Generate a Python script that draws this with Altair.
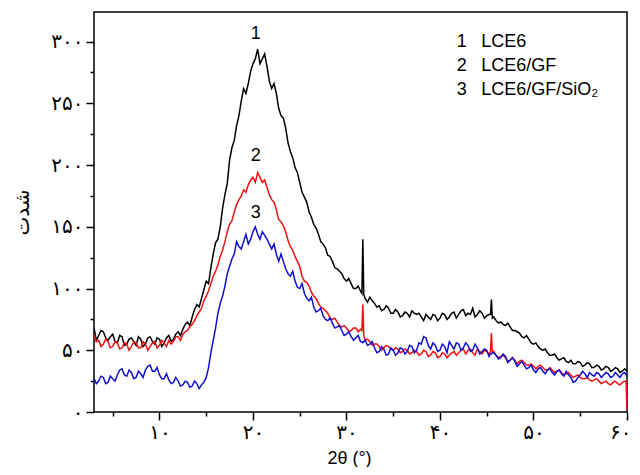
import altair as alt
import pandas as pd

# ---- data ----
# 2theta sampling positions (degrees), every 0.5 deg
two_theta = [
    3.0, 3.5, 4.0, 4.5, 5.0, 5.5, 6.0, 6.5, 7.0, 7.5,
    8.0, 8.5, 9.0, 9.5, 10.0, 10.5, 11.0, 11.5, 12.0, 12.5,
    13.0, 13.5, 14.0, 14.5, 15.0, 15.5, 16.0, 16.5, 17.0, 17.5,
    18.0, 18.5, 19.0, 19.5, 20.0, 20.5, 21.0, 21.5, 22.0, 22.5,
    23.0, 23.5, 24.0, 24.5, 25.0, 25.5, 26.0, 26.5, 27.0, 27.5,
    28.0, 28.5, 29.0, 29.5, 30.0, 30.5, 31.0, 31.5, 32.0, 32.5,
    33.0, 33.5, 34.0, 34.5, 35.0, 35.5, 36.0, 36.5, 37.0, 37.5,
    38.0, 38.5, 39.0, 39.5, 40.0, 40.5, 41.0, 41.5, 42.0, 42.5,
    43.0, 43.5, 44.0, 44.5, 45.0, 45.5, 46.0, 46.5, 47.0, 47.5,
    48.0, 48.5, 49.0, 49.5, 50.0, 50.5, 51.0, 51.5, 52.0, 52.5,
    53.0, 53.5, 54.0, 54.5, 55.0, 55.5, 56.0, 56.5, 57.0, 57.5,
    58.0, 58.5, 59.0, 59.5, 60.0,
]
# in-between positions (3.25, 3.75, ... 59.75)
two_theta_mid = [t + 0.25 for t in two_theta[:-1]]
# extra positions around the narrow reflections and the end of the scan
two_theta_extra = [31.65, 31.85, 45.4, 45.6, 59.9]

lce6 = [
    68, 62, 65, 58, 63, 56, 61, 55, 60, 54,
    59, 55, 61, 55, 59, 56, 62, 59, 65, 67,
    73, 77, 87, 92, 106, 117, 137, 150, 176, 204,
    220, 240, 262, 266, 282, 294, 286, 280, 262, 258,
    240, 230, 211, 198, 186, 174, 162, 152, 144, 136,
    127, 122, 116, 112, 106, 104, 100, 98, 92, 93,
    88, 86, 83, 84, 80, 81, 78, 80, 82, 79,
    77, 79, 75, 78, 76, 79, 77, 81, 79, 83,
    80, 84, 79, 80, 78, 91, 74, 73, 70, 69,
    66, 64, 60, 59, 55, 53, 50, 48, 46, 44,
    43, 41, 42, 39, 40, 38, 39, 36, 37, 35,
    36, 34, 35, 33, 33,
]
lce6_mid = [
    58, 66, 60, 61, 57, 62, 54, 59, 57, 61,
    53, 60, 57, 60, 53, 60, 57, 63, 62, 71,
    70, 83, 85, 99, 104, 128, 140, 165, 185, 214,
    232, 252, 258, 276, 286, 282, 290, 268, 266, 246,
    238, 218, 206, 194, 178, 170, 158, 149, 138, 133,
    126, 117, 114, 108, 108, 100, 102, 140, 89, 90,
    85, 82, 86, 80, 83, 77, 81, 77, 80, 80,
    74, 77, 79, 74, 80, 75, 80, 76, 82, 78,
    79, 77, 82, 76, 79, 77, 72, 71, 72, 66,
    65, 61, 62, 56, 56, 51, 51, 46, 47, 42,
    44, 40, 39, 41, 37, 40, 36, 38, 34, 37,
    33, 36, 32, 35,
]
lce6_extra = [96, 95, 79, 76, 34]

lce6_gf = [
    63, 58, 55, 57, 53, 56, 52, 55, 53, 56,
    52, 55, 53, 57, 54, 56, 58, 57, 61, 63,
    66, 71, 78, 84, 94, 104, 114, 126, 138, 152,
    162, 172, 180, 184, 190, 194, 186, 182, 172, 164,
    154, 146, 134, 126, 118, 106, 102, 94, 88, 84,
    80, 75, 73, 69, 68, 66, 68, 67, 58, 57,
    55, 53, 52, 53, 50, 51, 49, 50, 48, 49,
    47, 49, 46, 48, 45, 47, 46, 49, 48, 51,
    50, 48, 51, 47, 49, 64, 46, 45, 44, 42,
    42, 41, 40, 38, 37, 37, 36, 34, 34, 33,
    32, 31, 30, 29, 28, 27, 26, 26, 25, 24,
    23, 24, 23, 24, 1,
]
lce6_gf_mid = [
    57, 53, 59, 52, 57, 51, 56, 50, 57, 52,
    57, 50, 56, 52, 58, 53, 55, 61, 58, 65,
    69, 74, 81, 90, 98, 110, 119, 131, 146, 155,
    168, 175, 178, 188, 186, 190, 188, 176, 170, 156,
    151, 139, 131, 122, 110, 105, 97, 92, 85, 82,
    76, 76, 70, 70, 65, 68, 65, 87, 59, 54,
    55, 50, 54, 51, 52, 48, 51, 47, 50, 46,
    50, 45, 49, 44, 48, 44, 48, 46, 50, 47,
    51, 46, 49, 50, 47, 49, 44, 46, 41, 44,
    39, 42, 38, 39, 35, 38, 34, 36, 32, 34,
    30, 32, 28, 30, 27, 28, 25, 27, 23, 25,
    22, 25, 22, 25,
]
lce6_gf_extra = [66, 62, 49, 48, 25]

lce6_gf_sio2 = [
    27, 25, 28, 24, 27, 30, 35, 29, 32, 28,
    31, 34, 38, 33, 30, 27, 26, 24, 25, 22,
    24, 21, 23, 22, 28, 48, 68, 88, 102, 118,
    128, 134, 138, 136, 146, 144, 146, 140, 132, 128,
    128, 116, 110, 106, 100, 96, 90, 85, 82, 78,
    74, 72, 69, 66, 63, 61, 60, 57, 58, 55,
    52, 49, 51, 47, 50, 48, 51, 49, 53, 50,
    55, 60, 51, 54, 50, 53, 57, 51, 55, 52,
    54, 50, 52, 49, 50, 47, 46, 44, 45, 42,
    41, 39, 38, 36, 34, 35, 33, 34, 32, 33,
    31, 33, 28, 25, 30, 31, 32, 29, 31, 30,
    31, 29, 30, 31, 30,
]
lce6_gf_sio2_mid = [
    23, 29, 23, 29, 25, 34, 30, 34, 27, 33,
    28, 37, 33, 36, 27, 31, 23, 28, 21, 25,
    20, 25, 19, 24, 36, 58, 80, 94, 112, 124,
    138, 132, 144, 140, 150, 140, 143, 136, 136, 122,
    122, 112, 114, 101, 104, 92, 93, 81, 84, 75,
    76, 68, 70, 62, 65, 58, 62, 56, 54, 57,
    48, 53, 46, 52, 46, 52, 47, 54, 48, 56,
    61, 54, 56, 49, 55, 48, 54, 56, 50, 56,
    49, 55, 47, 51, 45, 48, 43, 47, 40, 44,
    37, 41, 35, 38, 32, 36, 31, 35, 30, 34,
    29, 30, 24, 28, 33, 28, 30, 32, 28, 32,
    28, 32, 28, 32,
]
lce6_gf_sio2_extra = [57, 57, 47, 48, 30]

series_names = ["LCE6", "LCE6/GF", "LCE6/GF/SiO2"]
series_colors = ["#000000", "#f01010", "#1010d0"]

legend_nums = ["1", "2", "3"]
legend_texts = ["LCE6", "LCE6/GF", "LCE6/GF/SiO\u2082"]
legend_num_x = [41.8, 41.8, 41.8]
legend_text_x = [44.4, 44.4, 44.4]
legend_y = [300, 280, 260.5]

curve_label_x = [20.3, 20.3, 20.3]
curve_label_y = [306, 207, 161.5]

x_tick_values = [10, 20, 30, 40, 50, 60]
x_tick_labels = ["۱۰", "۲۰", "۳۰", "۴۰", "۵۰", "۶۰"]
x_minor_values = [5, 15, 25, 35, 45, 55]
y_tick_values = [0, 50, 100, 150, 200, 250, 300]
y_tick_labels = ["۰", "۵۰", "۱۰۰", "۱۵۰", "۲۰۰", "۲۵۰", "۳۰۰"]
y_minor_values = [25, 75, 125, 175, 225, 275]

x_title = "2θ (°)"
y_title = "شدت"

# ---- build tables ----
rows = []
for name, base, mid, extra in zip(
        series_names,
        [lce6, lce6_gf, lce6_gf_sio2],
        [lce6_mid, lce6_gf_mid, lce6_gf_sio2_mid],
        [lce6_extra, lce6_gf_extra, lce6_gf_sio2_extra]):
    pts = (list(zip(two_theta, base)) + list(zip(two_theta_mid, mid))
           + list(zip(two_theta_extra, extra)))
    pts.sort(key=lambda p: p[0])
    for t, v in pts:
        rows.append({"theta": t, "intensity": v, "series": name})
df = pd.DataFrame(rows)

legend_df = pd.DataFrame({
    "num": legend_nums, "text": legend_texts,
    "nx": legend_num_x, "tx": legend_text_x, "y": legend_y,
})
curve_df = pd.DataFrame({"num": legend_nums, "x": curve_label_x, "y": curve_label_y})


def label_expr(values, labels):
    expr = "''"
    for v, lab in reversed(list(zip(values, labels))):
        expr = f"datum.value == {v} ? '{lab}' : ({expr})"
    return expr


X_DOMAIN = [3, 60]
Y_DOMAIN = [0, 324]
xs = alt.Scale(domain=X_DOMAIN, nice=False, zero=False)
ys = alt.Scale(domain=Y_DOMAIN, nice=False, zero=False)

x_axis = alt.Axis(
    values=x_tick_values, labelExpr=label_expr(x_tick_values, x_tick_labels),
    tickSize=8, tickWidth=1.5, tickColor="black", domain=False, grid=False,
    labelFont="DejaVu Sans", labelFontSize=20, labelColor="black", labelPadding=2,
    labelFlush=True, labelFlushOffset=4, labelOverlap=False,
    title=x_title, titleFont="Liberation Sans", titleFontSize=18,
    titleFontWeight="normal", titleColor="black",
    titleX=255, titleY=46, titleAlign="center", titleBaseline="middle",
)
y_axis = alt.Axis(
    values=y_tick_values, labelExpr=label_expr(y_tick_values, y_tick_labels),
    tickSize=8, tickWidth=1.5, tickColor="black", domain=False, grid=False,
    labelFont="DejaVu Sans", labelFontSize=20, labelColor="black", labelPadding=3,
    labelFlush=False, labelOverlap=False,
    title=y_title, titleFont="DejaVu Sans", titleFontSize=20,
    titleFontWeight="normal", titleColor="black", titleAngle=270,
    titleX=-72, titleY=200, titleAlign="center", titleBaseline="middle",
)
x_minor_axis = alt.Axis(
    orient="bottom", values=x_minor_values, tickSize=4, tickWidth=1.5,
    tickColor="black", labels=False, domain=False, grid=False, title=None,
)
y_minor_axis = alt.Axis(
    orient="left", values=y_minor_values, tickSize=4, tickWidth=1.5,
    tickColor="black", labels=False, domain=False, grid=False, title=None,
)

layers = []
for name, color in zip(series_names, series_colors):
    layers.append(
        alt.Chart(df).transform_filter(alt.datum.series == name)
        .mark_line(color=color, strokeWidth=1.5, clip=True)
        .encode(
            x=alt.X("theta:Q", scale=xs, axis=x_axis if not layers else None),
            y=alt.Y("intensity:Q", scale=ys, axis=y_axis if not layers else None),
        )
    )

minor = alt.Chart(df).mark_point(opacity=0).encode(
    x=alt.X("theta:Q", scale=xs, axis=x_minor_axis),
    y=alt.Y("intensity:Q", scale=ys, axis=y_minor_axis),
)

text_style = dict(font="Liberation Sans", fontSize=18, color="black", baseline="middle")

legend_nums_layer = alt.Chart(legend_df).mark_text(align="left", **text_style).encode(
    x=alt.X("nx:Q", scale=xs, axis=None), y=alt.Y("y:Q", scale=ys, axis=None), text="num:N")

legend_text_layer = alt.Chart(legend_df).mark_text(align="left", **text_style).encode(
    x=alt.X("tx:Q", scale=xs, axis=None), y=alt.Y("y:Q", scale=ys, axis=None), text="text:N")

curve_labels = alt.Chart(curve_df).mark_text(align="center", **text_style).encode(
    x=alt.X("x:Q", scale=xs, axis=None), y=alt.Y("y:Q", scale=ys, axis=None), text="num:N")

chart = alt.layer(
    *layers, minor, legend_nums_layer, legend_text_layer, curve_labels
).resolve_axis(x="independent", y="independent").properties(
    width=533, height=400,
    autosize=alt.AutoSizeParams(type="none"),
    padding={"left": 86, "top": 4, "right": 5, "bottom": 55},
    background="white",
).configure_view(stroke="black", strokeWidth=1.5)

chart.save("out.html", embed_options={"renderer": "svg", "actions": False})
